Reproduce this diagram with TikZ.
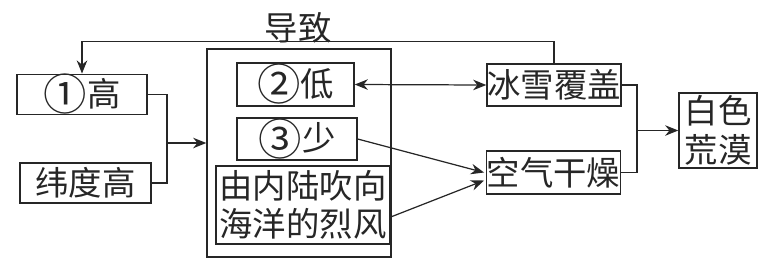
\documentclass[tikz,border=0pt]{standalone}
\usepackage{fontspec}
\setmainfont{Noto Sans CJK SC}
\usetikzlibrary{arrows.meta,calc}

% larger circled numbers, as big as a full character
\newcommand{\circnum}[1]{\raisebox{-0.14em}{\scalebox{1.3}{#1}}}

\begin{document}
\begin{tikzpicture}[x=0.02cm,y=-0.02cm]

    % 1 unit = 1 pixel of the 777 x 265 layout (y grows downwards)
    \def\px{0.02cm}
    \useasboundingbox (0,0) rectangle (777,265);

    % Box and connector styles
    \tikzset{
        fbox/.style={draw=black!85, line width=0.8pt, inner sep=0pt,
            align=center, text=black!85, font=\fontsize{19}{22}\selectfont},
        link/.style={draw=black!85, line width=0.7pt},
        arr/.style={link, -{Stealth[length=7.5pt,width=6pt]}},
        dblarr/.style={link, {Stealth[length=7.5pt,width=6pt]}-{Stealth[length=7.5pt,width=6pt]}}
    }

    % --- left column ---
    \node[fbox, minimum width=130*\px, minimum height=37*\px] (gao) at (82,94.5) {\circnum{①}高};
    \node[fbox, minimum width=131*\px, minimum height=40*\px] (weidu) at (85.5,183) {纬度高};

    % --- big box with three causes ---
    \node[fbox, minimum width=184*\px, minimum height=208*\px] (inland) at (299,153) {};
    \node[fbox, minimum width=117*\px, minimum height=43*\px] (di) at (295.5,84.5) {\circnum{②}低};
    \node[fbox, minimum width=120*\px, minimum height=42*\px] (shao) at (297,139) {\circnum{③}少};
    \node[fbox, minimum width=174*\px, minimum height=78*\px] (feng) at (303,205)
        {由内陆吹向\\海洋的烈风};

    % --- right column ---
    \node[fbox, minimum width=134*\px, minimum height=42*\px] (bingxue) at (554,85) {冰雪覆盖};
    \node[fbox, minimum width=131*\px, minimum height=43*\px] (ganzao) at (553.5,172.5) {空气干燥};
    \node[fbox, minimum width=78*\px, minimum height=75*\px] (huangmo) at (718,130.5) {白色\\荒漠};

    % --- join left column into big box ---
    \coordinate (jl) at (167,143);
    \draw[link] (gao.east) -| (jl);
    \draw[link] (weidu.east) -| (jl);
    \draw[arr] (jl) -- (jl -| inland.west);

    % --- feedback loop ---
    \draw[arr] (bingxue.north) -- ++(0,-22) -| (gao.north);
    \node[text=black!85, font=\fontsize{19}{22}\selectfont] (daozhi) at (298,28) {导致};

    % --- causes to effects ---
    \draw[dblarr] (di.east) -- (bingxue.west);
    \draw[arr] (shao.east) -- ($(ganzao.west)+(-2,0)$);
    \draw[arr] ($(feng.east)+(0,12)$) -- ($(ganzao.west)+(-2,8)$);

    % --- join effects into desert ---
    \coordinate (jr) at (637,130.5);
    \draw[link] (bingxue.east) -| (jr);
    \draw[link] (ganzao.east) -| (jr);
    \draw[arr] (jr) -- (huangmo.west);

\end{tikzpicture}
\end{document}
